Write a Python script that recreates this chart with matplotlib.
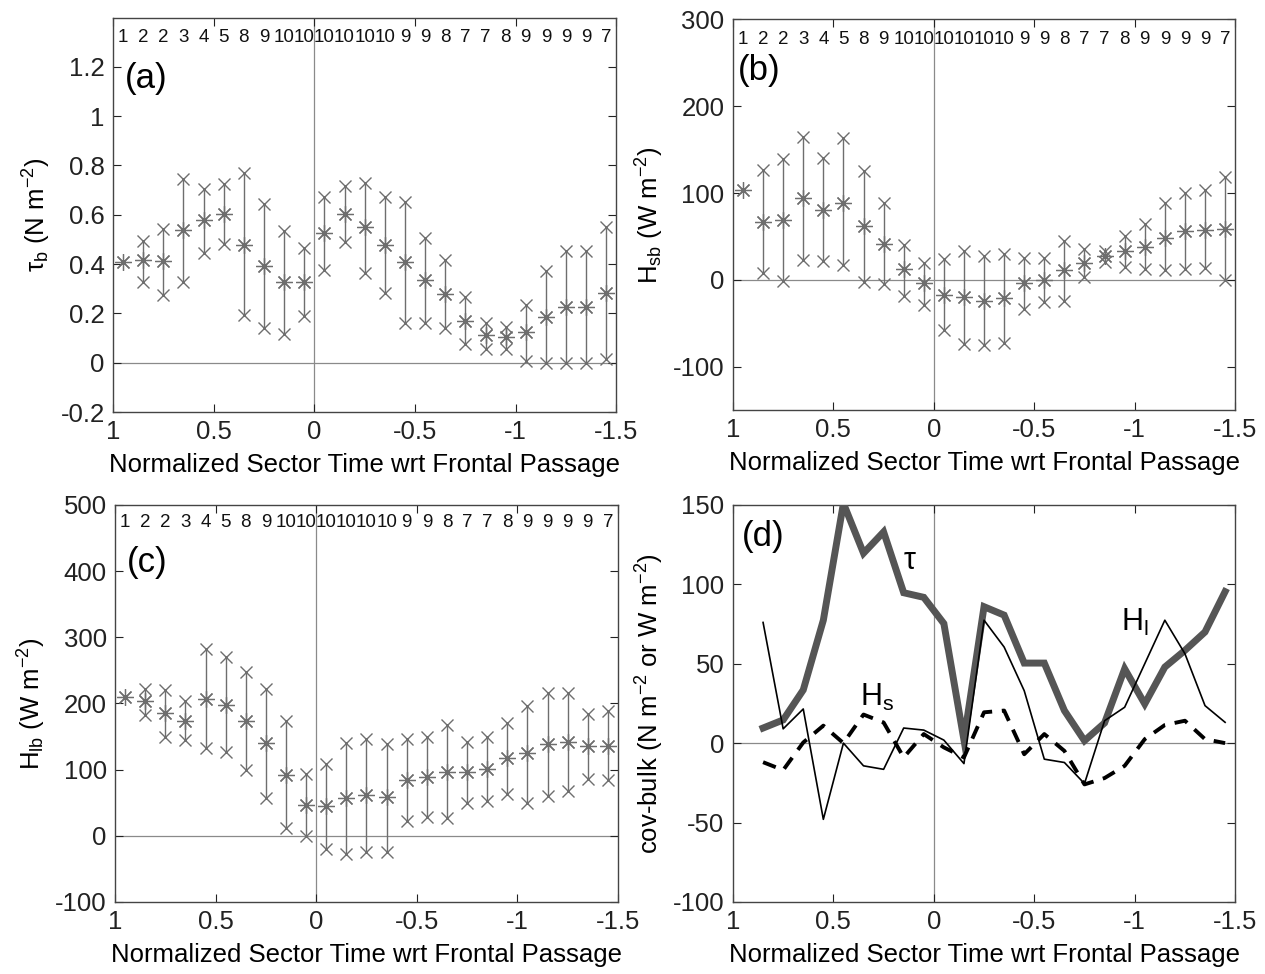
import numpy as np
import matplotlib
matplotlib.use("Agg")
import matplotlib.pyplot as plt

plt.rcParams['font.family'] = ['Liberation Sans', 'DejaVu Sans']
plt.rcParams['mathtext.fontset'] = 'custom'
plt.rcParams['mathtext.rm'] = 'Liberation Sans'
plt.rcParams['mathtext.it'] = 'Liberation Sans:italic'

# sector centres (normalized time wrt frontal passage)
sector_x = [0.95, 0.85, 0.75, 0.65, 0.55, 0.45, 0.35, 0.25, 0.15, 0.05,
            -0.05, -0.15, -0.25, -0.35, -0.45, -0.55, -0.65, -0.75, -0.85, -0.95,
            -1.05, -1.15, -1.25, -1.35, -1.45]
n_obs = [1, 2, 2, 3, 4, 5, 8, 9, 10, 10, 10, 10, 10, 10, 9, 9, 8, 7, 7, 8, 9, 9, 9, 9, 7]

# (a) wind stress
tau_mean = [0.41, 0.415, 0.413, 0.538, 0.58, 0.603, 0.478, 0.391, 0.326, 0.328,
            0.526, 0.604, 0.549, 0.478, 0.407, 0.335, 0.279, 0.171, 0.111, 0.104,
            0.124, 0.185, 0.225, 0.225, 0.283]
tau_hi = [np.nan, 0.495, 0.544, 0.747, 0.705, 0.724, 0.769, 0.643, 0.533, 0.465,
          0.672, 0.715, 0.728, 0.672, 0.652, 0.506, 0.418, 0.267, 0.159, 0.146,
          0.236, 0.371, 0.452, 0.452, 0.55]
tau_lo = [np.nan, 0.328, 0.275, 0.328, 0.445, 0.482, 0.192, 0.142, 0.117, 0.189,
          0.375, 0.488, 0.364, 0.281, 0.162, 0.162, 0.140, 0.074, 0.054, 0.054,
          0.007, -0.003, 0.0, -0.003, 0.016]

# (b) sensible heat flux
hs_mean = [103, 67, 69, 94, 81, 89, 62, 41, 12, -4, -17, -20, -24, -21, -4, 0,
           11, 20, 27, 33, 38, 48, 56, 58, 59]
hs_hi = [np.nan, 127, 139, 165, 140, 163, 125, 88, 40, 19, 24, 33, 27, 30, 25, 25,
         45, 35, 33, 50, 64, 88, 100, 103, 118]
hs_lo = [np.nan, 8, -1, 23, 22, 17, -2, -5, -19, -29, -58, -74, -75, -73, -34, -26,
         -24, 3, 21, 15, 12, 11, 12, 14, 0]

# (c) latent heat flux
hl_mean = [209, 204, 185, 174, 207, 198, 174, 140, 92, 47, 45, 57, 61, 58, 85, 89,
           97, 97, 101, 117, 125, 139, 141, 135, 136]
hl_hi = [np.nan, 222, 220, 203, 282, 270, 248, 222, 174, 94, 108, 140, 146, 139,
         146, 149, 168, 142, 150, 170, 196, 216, 215, 184, 188]
hl_lo = [np.nan, 182, 150, 144, 133, 127, 99, 57, 12, -1, -20, -28, -24, -25, 23,
         28, 27, 50, 52, 63, 50, 60, 68, 86, 85]

# (d) covariance minus bulk
d_x = sector_x[1:]
d_tau = [9.5, 14.6, 33.5, 77.4, 151, 119.6, 133, 94.7, 91.8, 75.3, 2, 85.9, 80.6,
         50.4, 50.4, 20.5, 1.5, 12.7, 46.8, 24.7, 47.9, 58.4, 70, 95.4]
d_hl = [76, 9, 21.5, -48, 0, -14.3, -16.5, 9.5, 8.2, 1.9, -12.9, 77.4, 60.5, 33,
        -10.1, -12.2, -25.5, 14.1, 22.6, 50, 77.4, 56.3, 23.6, 13.1]
d_hs = [-12, -17, 0.4, 11, 0, 18, 13, -9, 5.7, -2.7, -9, 19.4, 20.5, -7, 5.7,
        -4.9, -26, -22, -14.3, 2.5, 11.4, 14.1, 2.5, 0]

xticks = [1, 0.5, 0, -0.5, -1, -1.5]
xticklabels = ['1', '0.5', '0', '-0.5', '-1', '-1.5']
xlab = 'Normalized Sector Time wrt Frontal Passage'

gray = '#6e6e6e'
fs = 18.5

fig = plt.figure(figsize=(12.65, 9.74), dpi=100)
fig.patch.set_facecolor('white')

boxes = [[0.0893, 0.577, 0.398, 0.405],
         [0.5794, 0.579, 0.397, 0.401],
         [0.0909, 0.074, 0.3976, 0.4076],
         [0.5794, 0.074, 0.397, 0.4076]]
axs = [fig.add_axes(b) for b in boxes]


def setup(ax, ylim, yticks, ylabel):
    ax.set_xlim(1, -1.5)
    ax.set_ylim(*ylim)
    ax.set_xticks(xticks)
    ax.set_xticklabels(xticklabels)
    ax.set_yticks(yticks)
    ax.set_yticklabels(['%g' % t for t in yticks])
    ax.tick_params(direction='in', length=6, width=0.8, top=True, right=True,
                   labelsize=fs, colors='#222222', pad=6)
    for s in ax.spines.values():
        s.set_color('#444444')
        s.set_linewidth(1.0)
    ax.set_xlabel(xlab, fontsize=fs, labelpad=6)
    ax.set_ylabel(ylabel, fontsize=fs, labelpad=5)
    ax.axhline(0, color='#8a8a8a', lw=0.9, zorder=1)
    ax.axvline(0, color='#8a8a8a', lw=0.9, zorder=1)


def whiskers(ax, mean, hi, lo):
    for x, m, h, l in zip(sector_x, mean, hi, lo):
        if not np.isnan(h):
            ax.plot([x, x], [l, h], color=gray, lw=1.0, zorder=2)
    ax.plot(sector_x, hi, ls='none', marker='x', ms=9, mew=1.0, color=gray, zorder=3)
    ax.plot(sector_x, lo, ls='none', marker='x', ms=9, mew=1.0, color=gray, zorder=3)
    ax.plot(sector_x, mean, ls='none', marker=(8, 2, 0), ms=12, mew=0.9, color=gray, zorder=4)


def counts(ax, yfrac):
    for x, n in zip(sector_x, n_obs):
        ax.text(x, yfrac, str(n), transform=ax.get_xaxis_transform(),
                ha='center', va='center', fontsize=13.5, color='#111111')


# (a)
ax = axs[0]
setup(ax, (-0.2, 1.4), [-0.2, 0, 0.2, 0.4, 0.6, 0.8, 1, 1.2], r'τ$_\mathrm{b}$ (N m$^{-2}$)')
whiskers(ax, tau_mean, tau_hi, tau_lo)
counts(ax, 0.95)
ax.text(0.024, 0.845, '(a)', transform=ax.transAxes, fontsize=25, va='center')

# (b)
ax = axs[1]
setup(ax, (-150, 300), [-100, 0, 100, 200, 300], r'H$_\mathrm{sb}$ (W m$^{-2}$)')
whiskers(ax, hs_mean, hs_hi, hs_lo)
counts(ax, 0.95)
ax.text(0.01, 0.87, '(b)', transform=ax.transAxes, fontsize=25, va='center')

# (c)
ax = axs[2]
setup(ax, (-100, 500), [-100, 0, 100, 200, 300, 400, 500], r'H$_\mathrm{lb}$ (W m$^{-2}$)')
whiskers(ax, hl_mean, hl_hi, hl_lo)
counts(ax, 0.955)
ax.text(0.024, 0.855, '(c)', transform=ax.transAxes, fontsize=25, va='center')

# (d)
ax = axs[3]
setup(ax, (-100, 150), [-100, -50, 0, 50, 100, 150],
      r'cov-bulk (N m$^{-2}$ or W m$^{-2}$)')
ax.plot(d_x, d_tau, color='#555555', lw=5, solid_joinstyle='miter', zorder=3)
ax.plot(d_x, d_hl, color='black', lw=1.2, zorder=4)
ax.plot(d_x, d_hs, color='black', lw=2.8, ls=(0, (3.5, 2.5)), zorder=4)
ax.text(0.018, 0.92, '(d)', transform=ax.transAxes, fontsize=25, va='center')
ax.text(0.12, 115, 'τ', fontsize=22, ha='center', va='center')
ax.text(-1.0, 76, r'H$_\mathrm{l}$', fontsize=22, ha='center', va='center')
ax.text(0.28, 29, r'H$_\mathrm{s}$', fontsize=22, ha='center', va='center')

fig.savefig('out.png', dpi=100, facecolor='white')
